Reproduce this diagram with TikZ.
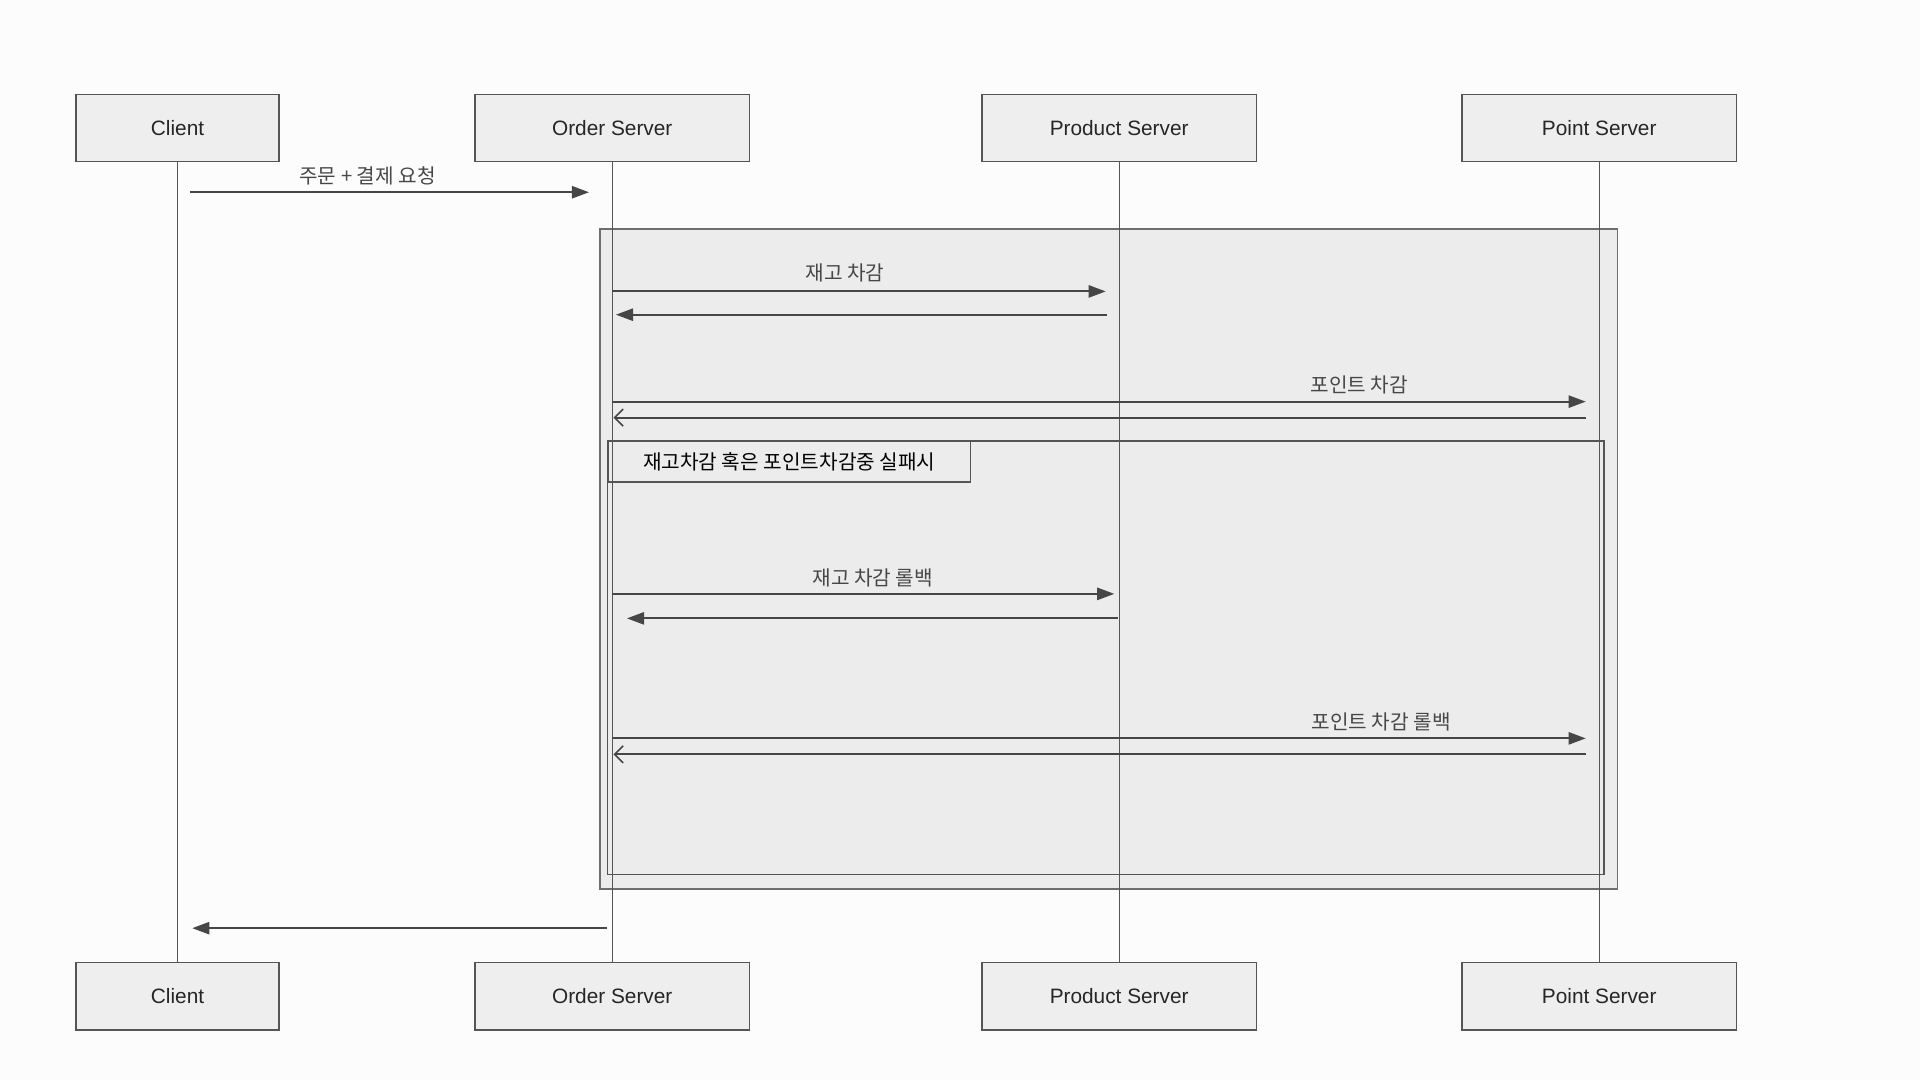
\documentclass[tikz,border=0pt]{standalone}
\usepackage{fontspec}
\setmainfont{Liberation Sans}
\newfontfamily\kr{Noto Sans CJK KR}
\usetikzlibrary{arrows.meta}
\definecolor{boxfill}{HTML}{EEEEEE}
\definecolor{boxline}{HTML}{555555}
\definecolor{grpfill}{HTML}{ECECEC}
\definecolor{grpline}{HTML}{6E6E6E}
\definecolor{msgline}{HTML}{464646}
\definecolor{lbltext}{HTML}{474747}
\begin{document}
\begin{tikzpicture}[x=1pt,y=-1pt,
  actor/.style={draw=boxline,fill=boxfill,line width=1.2pt,minimum height=55pt,
    font=\fontsize{17}{20}\selectfont,text=black!85},
  life/.style={draw=boxline,line width=0.9pt},
  msg/.style={draw=msgline,line width=1.6pt,-{Triangle[length=14pt,width=10pt]}},
  back/.style={draw=msgline,line width=1.6pt,-{Straight Barb[length=7pt,width=14pt,line width=1.3pt]}},
  lbl/.style={above,inner sep=5pt,font=\kr\fontsize{16.5}{19}\selectfont,text=lbltext}]
\fill[black!1] (0,0) rectangle (1568,882);
\useasboundingbox (0,0) rectangle (1568,882);
% group boxes
\draw[fill=grpfill,draw=grpline,line width=1.5pt] (490,187) rectangle (1321,726);
\draw[fill=grpfill,draw=boxline,line width=1.2pt] (496,360) rectangle (1310,714);
\node[draw=boxline,line width=1.2pt,fill=grpfill,anchor=north west,minimum width=296pt,
  minimum height=33pt,font=\kr\fontsize{16.5}{19}\selectfont] (alt) at (496,360) {재고차감 혹은 포인트차감중 실패시};
% participants
\node[actor,minimum width=166pt] (clT) at (145,104.5) {Client};
\node[actor,minimum width=224pt] (orT) at (500,104.5) {Order Server};
\node[actor,minimum width=224pt] (prT) at (914,104.5) {Product Server};
\node[actor,minimum width=224pt] (ptT) at (1306,104.5) {Point Server};
\node[actor,minimum width=166pt] (clB) at (145,813.5) {Client};
\node[actor,minimum width=224pt] (orB) at (500,813.5) {Order Server};
\node[actor,minimum width=224pt] (prB) at (914,813.5) {Product Server};
\node[actor,minimum width=224pt] (ptB) at (1306,813.5) {Point Server};
% lifelines
\draw[life] (clT) -- (clB);
\draw[life] (orT) -- (orB);
\draw[life] (prT) -- (prB);
\draw[life] (ptT) -- (ptB);
% messages
\draw[msg,shorten <=10pt,shorten >=19pt] (clT.south |- 0,157) -- node[lbl,pos=.437] {주문 + 결제 요청} (orT.south |- 0,157);
\draw[msg,shorten >=11pt] (orT.south |- 0,238) -- node[lbl,pos=.459,yshift=2pt] {재고 차감} (prT.south |- 0,238);
\draw[msg,shorten <=10pt,shorten >=3pt] (prT.south |- 0,257) -- (orT.south |- 0,257);
\draw[msg,shorten >=11pt] (orT.south |- 0,328) -- node[lbl,pos=.757] {포인트 차감} (ptT.south |- 0,328);
\draw[back,shorten <=11pt,shorten >=1pt] (ptT.south |- 0,341) -- (orT.south |- 0,341);
\draw[msg,shorten >=4pt] (orT.south |- 0,485) -- node[lbl,pos=.514] {재고 차감 롤백} (prT.south |- 0,485);
\draw[msg,shorten <=1pt,shorten >=12pt] (prT.south |- 0,505) -- (orT.south |- 0,505);
\draw[msg,shorten >=11pt] (orT.south |- 0,603) -- node[lbl,pos=.779] {포인트 차감 롤백} (ptT.south |- 0,603);
\draw[back,shorten <=11pt,shorten >=1pt] (ptT.south |- 0,616) -- (orT.south |- 0,616);
\draw[msg,shorten <=4pt,shorten >=12pt] (orT.south |- 0,758) -- (clT.south |- 0,758);
\end{tikzpicture}
\end{document}
